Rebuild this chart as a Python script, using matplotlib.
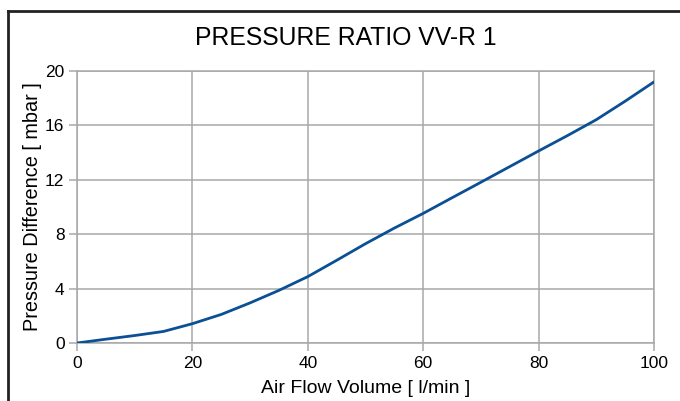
import matplotlib.pyplot as plt
from matplotlib.lines import Line2D

# data
flow = [0, 5, 10, 15, 20, 25, 30, 35, 40, 45, 50, 55, 60, 65, 70, 75, 80, 85, 90, 95, 100]
pressure = [0, 0.28, 0.55, 0.85, 1.42, 2.1, 2.95, 3.87, 4.88, 6.08, 7.3, 8.45, 9.53, 10.68, 11.82, 12.97, 14.12, 15.25, 16.42, 17.78, 19.2]
xticks = [0, 20, 40, 60, 80, 100]
yticks = [0, 4, 8, 12, 16, 20]

plt.rcParams['font.family'] = ['Liberation Sans', 'DejaVu Sans']

fig = plt.figure(figsize=(6.8, 4.01), dpi=100)
ax = fig.add_axes([77/680, 1-343/401, (654-77)/680, (343-71)/401])

ax.plot(flow, pressure, color='#0b4f95', lw=2.0, solid_capstyle='round', zorder=3)

ax.set_xlim(0, 100)
ax.set_ylim(0, 20)
ax.set_xticks(xticks)
ax.set_yticks(yticks)
ax.grid(True, color='#a8a8a8', lw=1.1)
ax.set_axisbelow(True)
for s in ax.spines.values():
    s.set_color('#a8a8a8')
    s.set_linewidth(1.1)
ax.tick_params(length=6, width=1.1, color='#a8a8a8', labelsize=12.5, pad=3)

ax.set_xlabel('Air Flow Volume [ l/min ]', fontsize=14, labelpad=7)
ax.set_ylabel('Pressure Difference [ mbar ]', fontsize=14.3, labelpad=2)
fig.text(345.5/680, 1-38/401, 'PRESSURE RATIO VV-R 1', fontsize=17.8, ha='center', va='center')

# outer frame, only left and top visible
fig.add_artist(Line2D([8/680, 8/680], [0, 1-11/401], color='#222222', lw=2, transform=fig.transFigure))
fig.add_artist(Line2D([8/680, 1], [1-11/401, 1-11/401], color='#222222', lw=2, transform=fig.transFigure))

fig.savefig('out.png', dpi=100)
